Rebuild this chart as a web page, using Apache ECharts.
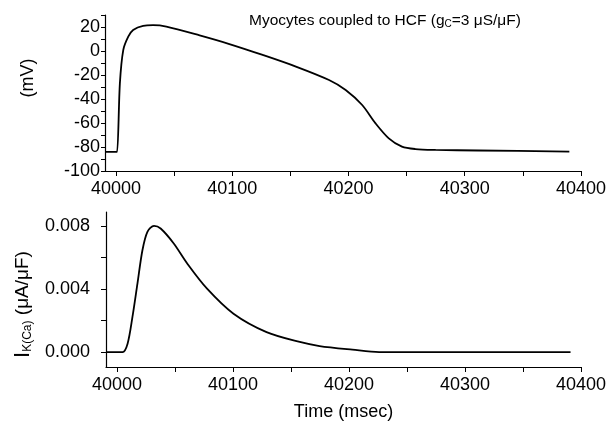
<!DOCTYPE html>
<html>
<head>
<meta charset="utf-8">
<script src="https://cdn.jsdelivr.net/npm/echarts@6.0.0/dist/echarts.min.js"></script>
<style>
  html, body { margin: 0; padding: 0; background: #fff; }
  #main { width: 609px; height: 423px; }
</style>
</head>
<body>
<div id="main"></div>
<script>
// membrane potential (mV) vs time (msec)
var vTime = [39991, 40000, 40001, 40003.4, 40006.3, 40010.6, 40014.8, 40023.4, 40032, 40043.4,
  40072, 40097.6, 40126.2, 40154.8, 40183.3, 40197.6, 40211.8, 40223.3, 40234.7, 40246,
  40257.5, 40275, 40311.8, 40390];
var vValues = [-84, -84, -84, -27, 0.8, 11.9, 17.5, 21, 21.5, 20.3,
  13, 5.8, -3.3, -13, -24.2, -32.5, -45, -60.3, -72.8, -79.7,
  -81.7, -82.4, -82.9, -83.8];

// I_K(Ca) (uA/uF) vs time (msec)
var iTime = [39991, 40004.9, 40009.2, 40013.4, 40017.7, 40022, 40026.3, 40032, 40037.7, 40049,
  40060.6, 40077.7, 40100.5, 40129, 40157.6, 40174.7, 40203, 40226, 40391];
var iValues = [0, 0, 0.00053, 0.00223, 0.00435, 0.00647, 0.00764, 0.00802, 0.00785, 0.0069,
  0.00563, 0.00403, 0.00244, 0.00127, 0.00064, 0.00038, 0.00015, 0, 0];

var xTicks = [40000, 40050, 40100, 40150, 40200, 40250, 40300, 40350, 40400];
var xLabels = [40000, 40100, 40200, 40300, 40400];
var vTicks = [-100, -90, -80, -70, -60, -50, -40, -30, -20, -10, 0, 10, 20, 30];
var vLabels = [-100, -80, -60, -40, -20, 0, 20];
var iTicks = [0, 0.002, 0.004, 0.006, 0.008];
var iLabels = [0, 0.004, 0.008];

var font = 'Liberation Sans, Arial, sans-serif';
var axisLine = { onZero: false, lineStyle: { color: '#000', width: 1.2 } };

function pair(xs, ys) {
  return xs.map(function (x, i) { return [x, ys[i]]; });
}

function xAxis(idx, showName) {
  return {
    type: 'value', gridIndex: idx, min: 39990.6, max: 40400,
    axisLine: axisLine, splitLine: { show: false },
    axisTick: { customValues: xTicks, length: 5, lineStyle: { color: '#000' } },
    axisLabel: {
      customValues: xLabels, color: '#000', fontSize: 18, fontFamily: font, margin: 9,
      formatter: function (v) { return String(v); }
    },
    name: showName ? 'Time (msec)' : '', nameLocation: 'middle', nameGap: 36,
    nameTextStyle: { color: '#000', fontSize: 18, fontFamily: font }
  };
}

var myChart = echarts.init(document.getElementById('main'));
var option = {
  backgroundColor: '#fff',
  animation: false,
  grid: [
    { left: 105, top: 15, width: 478, height: 156 },
    { left: 106, top: 212, width: 477, height: 155 }
  ],
  xAxis: [xAxis(0, false), xAxis(1, true)],
  yAxis: [
    {
      type: 'value', gridIndex: 0, min: -100, max: 30,
      axisLine: axisLine, splitLine: { show: false },
      axisTick: { customValues: vTicks, length: 4, lineStyle: { color: '#000' } },
      axisLabel: {
        customValues: vLabels, color: '#000', fontSize: 18, fontFamily: font, margin: 5,
        formatter: function (v) { return String(v); }
      },
      name: '(mV)', nameLocation: 'middle', nameGap: 68, nameRotate: 90,
      nameTextStyle: { color: '#000', fontSize: 18, fontFamily: font, padding: [0, 0, 0, 30] }
    },
    {
      type: 'value', gridIndex: 1, min: -0.00095, max: 0.0089,
      axisLine: axisLine, splitLine: { show: false },
      axisTick: { customValues: iTicks, length: 5, lineStyle: { color: '#000' } },
      axisLabel: {
        customValues: iLabels, color: '#000', fontSize: 18, fontFamily: font, margin: 16,
        formatter: function (v) { return v.toFixed(3); }
      },
      name: '{i|I}{s|K(Ca)}{t| (μA/μF)}', nameLocation: 'middle', nameGap: 66, nameRotate: 90,
      nameTextStyle: {
        color: '#000', fontFamily: font, padding: [0, 30, 0, 0],
        rich: {
          i: { fontSize: 22, fontFamily: font, color: '#000' },
          s: { fontSize: 12, fontFamily: font, color: '#000', verticalAlign: 'bottom', padding: [8, 0, 0, 0] },
          t: { fontSize: 19, fontFamily: font, color: '#000' }
        }
      }
    }
  ],
  graphic: [{
    type: 'text', left: 249, top: 13,
    style: {
      text: '{a|Myocytes coupled to HCF (g}{b|C}{a|=3 μS/μF)}',
      rich: {
        a: { fontSize: 15.5, fontFamily: font, fill: '#000' },
        b: { fontSize: 10, fontFamily: font, fill: '#000', verticalAlign: 'bottom', padding: [5, 0, 0, 0] }
      }
    }
  }],
  series: [
    {
      type: 'line', xAxisIndex: 0, yAxisIndex: 0, data: pair(vTime, vValues),
      smooth: 0.3, showSymbol: false, lineStyle: { color: '#000', width: 1.8 }
    },
    {
      type: 'line', xAxisIndex: 1, yAxisIndex: 1, data: pair(iTime, iValues),
      smooth: 0.3, showSymbol: false, lineStyle: { color: '#000', width: 1.8 }
    }
  ]
};
myChart.setOption(option);
</script>
</body>
</html>
